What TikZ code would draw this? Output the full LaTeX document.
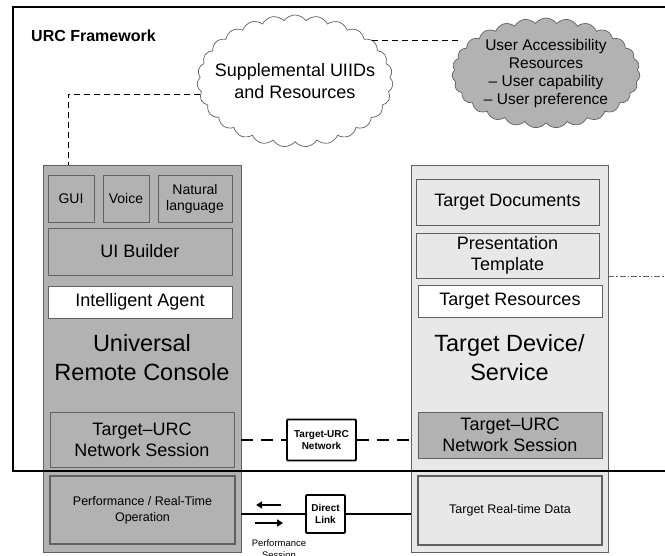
\documentclass[tikz,border=0pt]{standalone}
\usepackage{fontspec}
\setmainfont{Liberation Sans}
\usetikzlibrary{shapes.symbols, arrows.meta, calc}

\definecolor{consolegray}{gray}{0.70}
\definecolor{targetgray}{gray}{0.91}
\definecolor{linegray}{gray}{0.38}

\tikzset{
  column/.style={draw=linegray, line width=0.6pt, inner sep=0pt},
  part/.style={draw=linegray, line width=0.8pt, inner sep=0pt, align=center,
    font=\fontsize{18}{21}\selectfont},
  smallpart/.style={part, font=\fontsize{14}{16}\selectfont},
  bigname/.style={align=center, inner sep=0pt, font=\fontsize{23.5}{29}\selectfont},
  heavypart/.style={draw=gray!75!black, line width=1.8pt, inner sep=0pt, align=center,
    font=\fontsize{12.5}{16}\selectfont},
  linkbox/.style={draw, line width=1.8pt, fill=white, inner sep=0pt, align=center,
    rounded corners=1pt, font=\bfseries\fontsize{10}{12.5}\selectfont},
  resource/.style={cloud, cloud puffs=27, cloud puff arc=110, cloud ignores aspect,
    draw=linegray, line width=0.7pt, inner sep=0pt},
  cloudtext/.style={align=center, inner sep=0pt},
  dashlink/.style={dashed, line width=0.9pt, dash pattern=on 6pt off 4pt},
  netlink/.style={line width=1.6pt, dash pattern=on 12pt off 8pt},
  flow/.style={line width=2pt, -{Triangle[length=6pt,width=7pt]}}
}

\begin{document}
\begin{tikzpicture}[x=1pt, y=-1pt]
\useasboundingbox (0,0) rectangle (665,556);

% universal remote console
\node[column, fill=consolegray, minimum width=198pt, minimum height=387pt] (urc) at (142,358.5) {};
\node[smallpart, minimum width=46pt, minimum height=47pt] (gui) at (71,198.5) {GUI};
\node[smallpart, minimum width=46pt, minimum height=47pt] (voice) at (126,198.5) {Voice};
\node[smallpart, minimum width=74pt, minimum height=47pt] (natlang) at (195,198.5) {Natural\\language};
\node[part, minimum width=184pt, minimum height=47pt] (uibuild) at (140,251.5) {UI Builder};
\node[part, fill=white, minimum width=184pt, minimum height=32pt] (agent) at (140,302) {Intelligent Agent};
\node[bigname] (urcname) at (142,357.5) {Universal\\Remote Console};
\node[part, minimum width=184pt, minimum height=55pt] (uses) at (142,439.5) {Target--URC\\Network Session};
\node[heavypart, minimum width=185pt, minimum height=68pt] (perf) at (142.5,510) {Performance / Real-Time\\Operation};

% target device
\node[column, fill=targetgray, minimum width=197pt, minimum height=387pt] (tdev) at (509.5,358.5) {};
\node[part, minimum width=183pt, minimum height=46pt] (tdoc) at (507.5,202) {Target Documents};
\node[part, minimum width=183pt, minimum height=45pt] (tpl) at (507.5,255.5) {Presentation\\Template};
\node[part, fill=white, minimum width=184pt, minimum height=32pt] (tres) at (510,301) {Target Resources};
\node[bigname] (tdname) at (509.5,357.5) {Target Device/\\Service};
\node[part, fill=consolegray, minimum width=184pt, minimum height=46pt] (tses) at (510,435) {Target--URC\\Network Session};
\node[heavypart, minimum width=184pt, minimum height=69pt] (tdata) at (510,510.5) {Target Real-time Data};

% framework border
\draw[line width=2.6pt] (13,7) rectangle (700,471);
\node[anchor=west, inner sep=0pt, font=\bfseries\fontsize{16}{18}\selectfont] (fwtitle) at (31,36) {URC Framework};

% resources
\node[resource, fill=white, minimum width=196pt, minimum height=132pt,
  label={[cloudtext, font=\fontsize{18}{22}\selectfont]center:Supplemental UIIDs\\and Resources}]
  (supp) at (295,81) {};
\node[resource, fill=consolegray, minimum width=188pt, minimum height=110pt,
  label={[cloudtext, font=\fontsize{15.5}{18}\selectfont]center:User Accessibility\\Resources\\-- User capability\\-- User preference}]
  (access) at (546,73) {};

\draw[dashlink] (supp.188) -| ([xshift=-74pt]urc.north);
\draw[dashlink] (supp.28) -- (supp.28 -| access.166);
\coordinate (offright) at (680,276);
\draw[dash pattern=on 6pt off 2pt on 1.5pt off 2pt, line width=0.7pt, linegray] (offright -| tdev.east) -- (offright);

% network session
\node[linkbox, minimum width=69pt, minimum height=41pt] (net) at (321.5,440) {Target-URC\\Network};
\draw[netlink] (net.west -| urc.east) -- (net.west);
\draw[netlink] (net.east) -- (net.east -| tdev.west);

% direct link
\node[linkbox, minimum width=39pt, minimum height=38pt] (dlink) at (325.5,514) {Direct\\Link};
\draw[line width=1.2pt] (dlink.west -| urc.east) -- (dlink.west);
\draw[line width=1.2pt] (dlink.east) -- (dlink.east -| tdev.west);
\draw[flow] ($(dlink.west)+(-24,-9)$) -- ++(-25,0);
\draw[flow] ($(dlink.west)+(-50,9)$) -- ++(28,0);
\node[anchor=north, align=center, inner sep=0pt, font=\fontsize{9.5}{11.5}\selectfont] (psess) at (279,539.5) {Performance\\Session};
\end{tikzpicture}
\end{document}
